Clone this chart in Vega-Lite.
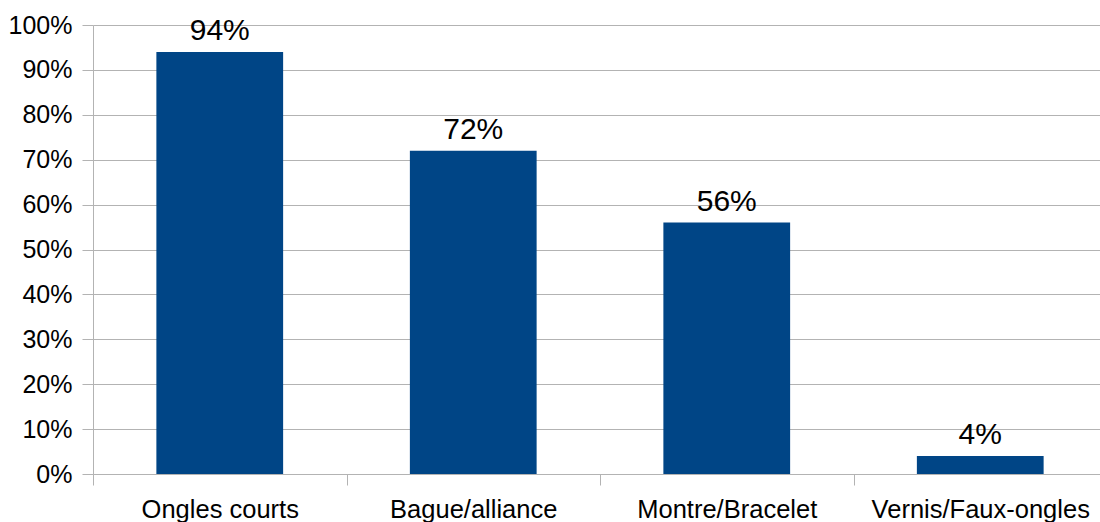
{
  "$schema": "https://vega.github.io/schema/vega-lite/v6.json",
  "autosize": {"type": "none"},
  "padding": {"left": 93, "top": 25, "right": 0, "bottom": 48},
  "width": 1007,
  "height": 449,
  "background": "white",
  "config": {
    "view": {"stroke": null},
    "font": "Liberation Sans",
    "axis": {
      "labelFont": "Liberation Sans",
      "labelColor": "#000000",
      "domainColor": "#b3b3b3",
      "tickColor": "#b3b3b3",
      "gridColor": "#b3b3b3",
      "domainWidth": 1,
      "tickWidth": 1,
      "gridWidth": 1,
      "tickSize": 11,
      "title": null
    }
  },
  "data": {
    "values": [
      {"item": "Ongles courts", "share": 0.94},
      {"item": "Bague/alliance", "share": 0.72},
      {"item": "Montre/Bracelet", "share": 0.56},
      {"item": "Vernis/Faux-ongles", "share": 0.04}
    ]
  },
  "encoding": {
    "x": {
      "field": "item",
      "type": "nominal",
      "sort": null,
      "scale": {"range": [0, 1014], "paddingInner": 0, "paddingOuter": 0},
      "axis": {
        "labelAngle": 0,
        "labelFontSize": 25.5,
        "labelPadding": 12,
        "labelLimit": 0,
        "labelOverlap": false,
        "labelBound": false,
        "tickBand": "extent",
        "grid": false,
        "domain": true
      }
    },
    "y": {
      "field": "share",
      "type": "quantitative",
      "scale": {"domain": [0, 1], "nice": false},
      "axis": {
        "format": ".0%",
        "values": [0, 0.1, 0.2, 0.3, 0.4, 0.5, 0.6, 0.7, 0.8, 0.9, 1],
        "labelFontSize": 25,
        "labelPadding": 10,
        "grid": true
      }
    }
  },
  "layer": [
    {
      "mark": {"type": "bar", "color": "#004586", "width": {"band": 0.5}}
    },
    {
      "mark": {
        "type": "text",
        "fontSize": 30,
        "color": "#000000",
        "baseline": "alphabetic",
        "align": "center",
        "dy": -12
      },
      "encoding": {
        "text": {"field": "share", "type": "quantitative", "format": ".0%"}
      }
    }
  ]
}
